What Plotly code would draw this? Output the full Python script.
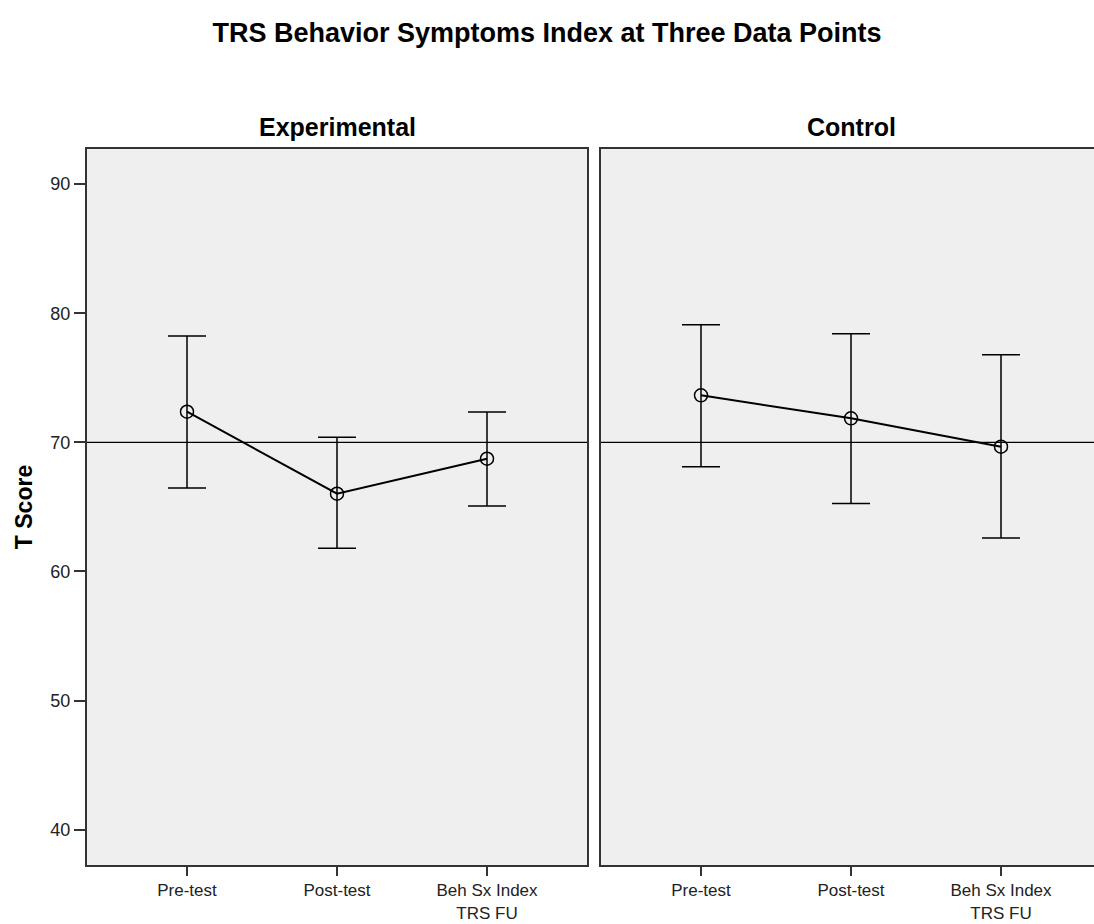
import plotly.graph_objects as go
from plotly.subplots import make_subplots

# ---- data ----
categories = ["Pre-test", "Post-test", "Beh Sx Index<br>TRS FU"]
x_pos = [0, 1, 2]
groups = ["Experimental", "Control"]

exp_mean = [72.37, 66.02, 68.73]
exp_upper = [78.23, 70.39, 72.35]
exp_lower = [66.46, 61.79, 65.07]

ctrl_mean = [73.64, 71.86, 69.66]
ctrl_upper = [79.11, 78.41, 76.79]
ctrl_lower = [68.11, 65.27, 62.59]

reference_value = 70
y_ticks = [40, 50, 60, 70, 80, 90]

FONT = "Liberation Sans, Arial, sans-serif"
AXIS_COLOR = "#333333"

fig = make_subplots(rows=1, cols=2, shared_yaxes=True, horizontal_spacing=0)

series = [
    (exp_mean, exp_upper, exp_lower),
    (ctrl_mean, ctrl_upper, ctrl_lower),
]
for i, (m, up, lo) in enumerate(series):
    fig.add_trace(
        go.Scatter(
            x=x_pos,
            y=m,
            mode="lines+markers",
            line=dict(color="black", width=2),
            marker=dict(symbol="circle-open", size=13, color="black",
                        line=dict(width=1.5, color="black")),
            error_y=dict(
                type="data",
                symmetric=False,
                array=[u - v for u, v in zip(up, m)],
                arrayminus=[v - l for v, l in zip(m, lo)],
                color="black",
                thickness=1.5,
                width=19,
            ),
            showlegend=False,
            hoverinfo="skip",
        ),
        row=1, col=i + 1,
    )
    fig.add_hline(y=reference_value, line=dict(color="black", width=1.2),
                  row=1, col=i + 1, layer="below")

W, H = 1094, 924
ml, mt, mb, mr = 87, 149, 59, 0
plot_w = W - ml - mr
panel_w = 500
gap = 14
px_per_unit = panel_w / (3 + 1/3)
x_lo = -2/3
fig.update_xaxes(
    tickmode="array", tickvals=x_pos, ticktext=categories,
    showgrid=False, zeroline=False,
    showline=True, linecolor=AXIS_COLOR, linewidth=2, mirror=True,
    ticks="outside", ticklen=9, tickwidth=1.5, tickcolor=AXIS_COLOR,
    tickfont=dict(family=FONT, size=17, color="#222"),
)
fig.update_layout(
    xaxis=dict(domain=[0, panel_w / plot_w], range=[x_lo, x_lo + panel_w / px_per_unit]),
    xaxis2=dict(domain=[(panel_w + gap) / plot_w, 1],
                range=[x_lo, x_lo + (plot_w - panel_w - gap) / px_per_unit]),
)
fig.update_yaxes(
    range=[37.26, 92.72], tickvals=y_ticks,
    showgrid=False, zeroline=False,
    showline=True, linecolor=AXIS_COLOR, linewidth=2,
    ticks="outside", ticklen=11, tickwidth=2, tickcolor=AXIS_COLOR,
    tickfont=dict(family=FONT, size=18, color="#222"),
)
fig.update_layout(
    yaxis=dict(mirror=True, title=dict(text="<b>T Score</b>", standoff=11,
                                       font=dict(family=FONT, size=23, color="black"))),
    yaxis2=dict(mirror=False, showticklabels=False, ticks=""),
)

for g, xr in zip(groups, ["x", "x2"]):
    fig.add_annotation(text=f"<b>{g}</b>", xref=xr, x=1, yref="paper", y=1,
                       yanchor="bottom", yshift=6, showarrow=False,
                       font=dict(family=FONT, size=25, color="black"))

fig.update_layout(
    width=W, height=H,
    margin=dict(l=ml, r=mr, t=mt, b=mb, autoexpand=False),
    paper_bgcolor="white",
    plot_bgcolor="#efefef",
    title=dict(text="<b>TRS Behavior Symptoms Index at Three Data Points</b>",
               x=0.5, xref="container", xanchor="center",
               y=1 - 33 / H, yref="container", yanchor="middle",
               font=dict(family=FONT, size=27, color="black")),
)

fig.write_html("out.html", config={"displayModeBar": False},
               post_script="document.body.style.margin='0';")
